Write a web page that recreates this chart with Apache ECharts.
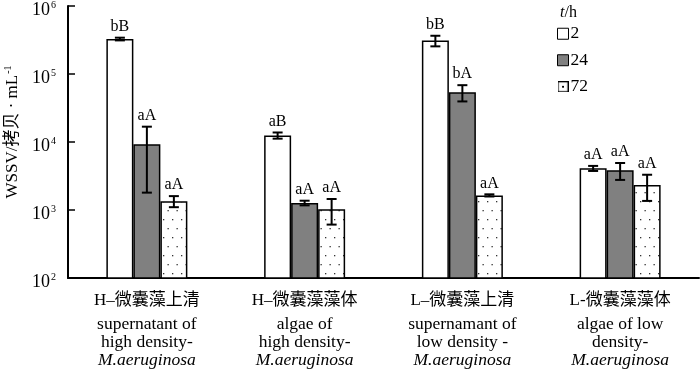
<!DOCTYPE html>
<html>
<head>
<meta charset="utf-8">
<script src="https://cdn.jsdelivr.net/npm/echarts@6/dist/echarts.min.js"></script>
<style>
  html, body { margin: 0; padding: 0; background: #fff; }
  #chart { width: 700px; height: 376px; }
</style>
</head>
<body>
<div id="chart"></div>
<script>
/* ---------- 数据 ---------- */
var categoriesCn = ['H–微囊藻上清', 'H–微囊藻藻体', 'L–微囊藻上清', 'L-微囊藻藻体'];
var categoriesEn1 = ['supernatant of', 'algae of', 'supernamant of', 'algae of low'];
var categoriesEn2 = ['high density-', 'high density-', 'low density -', 'density-'];
var categoriesEn3 = ['M.aeruginosa', 'M.aeruginosa', 'M.aeruginosa', 'M.aeruginosa'];

var seriesNames = ['2', '24', '72'];
var mean2h  = [327000, 12500, 310000, 4100];
var mean24h = [9300, 1270, 54000, 3840];
var mean72h = [1350, 1030, 1640, 2330];
var err2h  = [15000, 1300, 55000, 350];
var err24h = [7500, 100, 14500, 1070];
var err72h = [250, 420, 60, 970];
var sig2h  = ['bB', 'aB', 'bB', 'aA'];
var sig24h = ['aA', 'aA', 'bA', 'aA'];
var sig72h = ['aA', 'aA', 'aA', 'aA'];

var yTicks = [100, 1000, 10000, 100000, 1000000];

/* ---------- 点状填充 ---------- */
var dotCanvas = document.createElement('canvas');
dotCanvas.width = 9;
dotCanvas.height = 18;
var dctx = dotCanvas.getContext('2d');
dctx.fillStyle = '#fff';
dctx.fillRect(0, 0, 9, 18);
dctx.fillStyle = '#333';
dctx.fillRect(1, 3, 1.3, 1.3);
dctx.fillRect(5.5, 12, 1.3, 1.3);

/* 图例 72 的小图标：方框 + 中心点 */
var iconCanvas = document.createElement('canvas');
iconCanvas.width = 12;
iconCanvas.height = 12;
var ictx = iconCanvas.getContext('2d');
ictx.fillStyle = '#fff';
ictx.fillRect(0, 0, 12, 12);
ictx.strokeStyle = '#000';
ictx.lineWidth = 1.2;
ictx.strokeRect(0.6, 0.6, 10.8, 10.8);
ictx.fillStyle = '#000';
ictx.fillRect(5, 5, 2, 2);

var SERIF = '"Liberation Serif", "DejaVu Serif", "Noto Sans CJK SC", serif';
var BAR_W = 27;

var fills = ['#ffffff', '#808080', { image: dotCanvas, repeat: 'repeat' }];
var means = [mean2h, mean24h, mean72h];
var errs = [err2h, err24h, err72h];
var sigs = [sig2h, sig24h, sig72h];

var chart = echarts.init(document.getElementById('chart'), null, { renderer: 'canvas' });

var series = [];
seriesNames.forEach(function (name, s) {
    series.push({
        name: name,
        type: 'bar',
        barWidth: BAR_W,
        barGap: '0%',
        data: means[s],
        itemStyle: { color: fills[s], borderColor: '#000', borderWidth: 1.5 },
        z: 2
    });
});
seriesNames.forEach(function (name, s) {
    series.push({
        type: 'custom',
        z: 5,
        silent: true,
        encode: { x: 0, y: 1 },
        data: means[s].map(function (m, i) { return [i, m, errs[s][i]]; }),
        renderItem: function (params, api) {
            var i = api.value(0), m = api.value(1), e = api.value(2);
            var off = (s - 1) * BAR_W;
            var x = api.coord([i, m])[0] + off;
            var yT = api.coord([i, m + e])[1];
            var yB = api.coord([i, m - e])[1];
            var cap = 5;
            var st = { stroke: '#000', lineWidth: 2 };
            return {
                type: 'group',
                children: [
                    { type: 'line', shape: { x1: x, y1: yT, x2: x, y2: yB }, style: st },
                    { type: 'line', shape: { x1: x - cap, y1: yT, x2: x + cap, y2: yT }, style: st },
                    { type: 'line', shape: { x1: x - cap, y1: yB, x2: x + cap, y2: yB }, style: st },
                    {
                        type: 'text',
                        style: {
                            text: sigs[s][i], x: x, y: yT - 3,
                            align: 'center', verticalAlign: 'bottom',
                            font: '16px ' + SERIF, fill: '#000'
                        }
                    }
                ]
            };
        }
    });
});

var option = {
    backgroundColor: '#fff',
    animation: false,
    title: {
        text: '{i|t}{n|/h}',
        left: 555,
        top: 0,
        textStyle: {
            fontWeight: 'normal',
            rich: {
                i: { fontFamily: SERIF, fontSize: 16, fontStyle: 'italic', fontWeight: 'normal', color: '#000' },
                n: { fontFamily: SERIF, fontSize: 16, fontWeight: 'normal', color: '#000' }
            }
        }
    },
    legend: {
        orient: 'vertical',
        left: 557,
        top: 25,
        padding: 0,
        itemWidth: 11,
        itemHeight: 11,
        itemGap: 9,
        icon: 'rect',
        data: ['2', '24', { name: '72', icon: 'image://' + iconCanvas.toDataURL() }],
        textStyle: { fontFamily: SERIF, fontSize: 17.5, color: '#000', padding: [0, 0, 0, -3] },
        itemStyle: { borderColor: '#000', borderWidth: 1 }
    },
    grid: { left: 68, right: 1, top: 6, bottom: 98, containLabel: false, outerBoundsMode: 'none' },
    xAxis: {
        type: 'category',
        data: categoriesCn,
        axisLine: { lineStyle: { color: '#000', width: 2 } },
        axisTick: { inside: true, length: 5, lineStyle: { color: '#000', width: 1.5 } },
        axisLabel: {
            interval: 0,
            margin: 8,
            formatter: function (v, i) {
                return '{cn|' + categoriesCn[i] + '}\n{en|' + categoriesEn1[i] + '}\n{en|' +
                    categoriesEn2[i] + '}\n{it|' + categoriesEn3[i] + '}';
            },
            rich: {
                cn: { fontFamily: SERIF, fontSize: 17, lineHeight: 29, color: '#000' },
                en: { fontFamily: SERIF, fontSize: 17.5, lineHeight: 18, color: '#000' },
                it: { fontFamily: SERIF, fontSize: 17.5, lineHeight: 18, fontStyle: 'italic', color: '#000' }
            }
        }
    },
    yAxis: {
        type: 'log',
        logBase: 10,
        min: yTicks[0],
        max: yTicks[yTicks.length - 1],
        splitLine: { show: false },
        minorTick: { show: false },
        axisLine: { show: true, lineStyle: { color: '#000', width: 2 } },
        axisTick: { show: true, inside: true, length: 7, lineStyle: { color: '#000', width: 1.5 } },
        axisLabel: {
            margin: 12,
            padding: [8, 0, 0, 0],
            formatter: function (v) {
                return '{b|10}{s|' + Math.round(Math.log10(v)) + '}';
            },
            rich: {
                b: { fontFamily: SERIF, fontSize: 18, color: '#000' },
                s: { fontFamily: SERIF, fontSize: 10, color: '#000', verticalAlign: 'top', padding: [0, 0, 10, 1] }
            }
        },
        name: '{a|WSSV/拷贝 · mL}{s|-1}',
        nameLocation: 'middle',
        nameGap: 46,
        nameTextStyle: {
            padding: [0, 0, 0, 20],
            rich: {
                a: { fontFamily: SERIF, fontSize: 17, color: '#000' },
                s: { fontFamily: SERIF, fontSize: 10, color: '#000', padding: [0, 0, 9, 1] }
            }
        }
    },
    series: series
};

chart.setOption(option);
</script>
</body>
</html>
